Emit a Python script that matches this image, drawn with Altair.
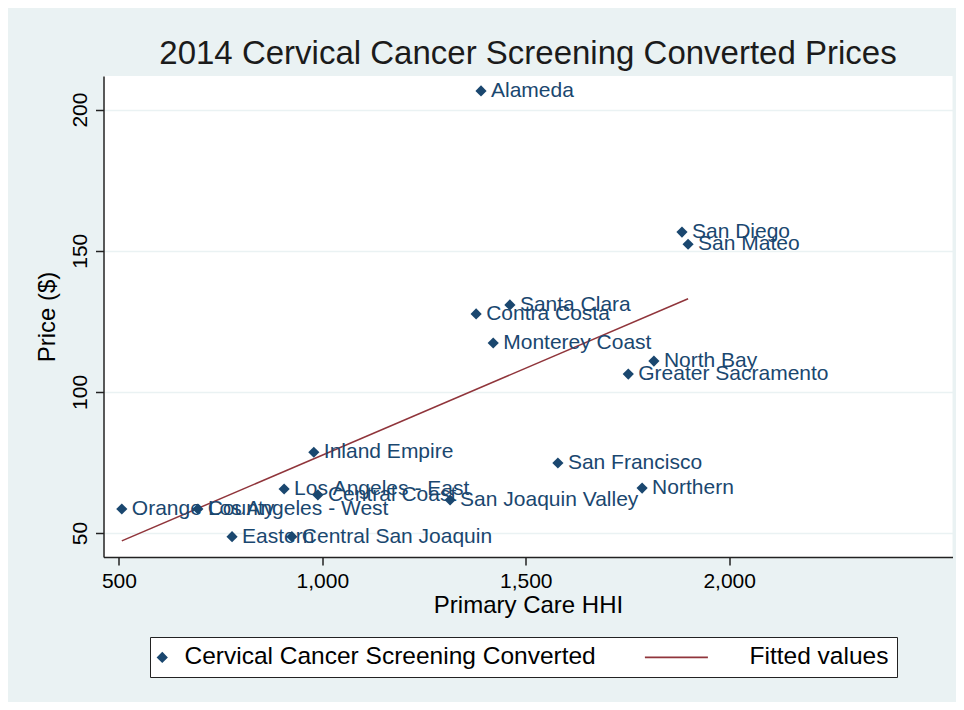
import altair as alt
import pandas as pd

regions = ["Alameda", "San Diego", "San Mateo", "Santa Clara", "Contra Costa",
           "Monterey Coast", "North Bay", "Greater Sacramento", "Inland Empire",
           "San Francisco", "Los Angeles - East", "Northern", "Central Coast",
           "San Joaquin Valley", "Orange County", "Los Angeles - West", "Eastern",
           "Central San Joaquin"]
hhi = [1390, 1884, 1899, 1461, 1378, 1420, 1815, 1752, 979, 1579, 906, 1786,
       989, 1314, 507, 694, 778, 925]
price = [206.6, 156.6, 152.3, 130.8, 127.6, 117.3, 110.9, 106.3, 78.6, 74.8,
         65.6, 65.9, 63.5, 61.7, 58.5, 58.5, 48.7, 48.7]
series_names = ["Cervical Cancer Screening Converted", "Fitted values"]
x_ticks = [500, 1000, 1500, 2000]
y_ticks = [50, 100, 150, 200]

NAVY = "#1A476F"
MAROON = "#90353B"
BG = "#EAF2F3"
FONT = "Liberation Sans"

df = pd.DataFrame({"region": regions, "hhi": hhi, "price": price,
                   "series": series_names[0]})

xscale = alt.Scale(domain=[462, 2549], nice=False, zero=False)
yscale = alt.Scale(domain=[41.5, 211.9], nice=False, zero=False)

xenc = alt.X("hhi:Q", scale=xscale, title="Primary Care HHI",
             axis=alt.Axis(values=x_ticks, format=",.0f", grid=False))
yenc = alt.Y("price:Q", scale=yscale, title="Price ($)",
             axis=alt.Axis(values=y_ticks, grid=True, labelAngle=270))

base = alt.Chart(df)

col_scale = alt.Scale(domain=series_names, range=[NAVY, MAROON])
points = base.mark_point(filled=True, size=125, strokeWidth=0, opacity=1).encode(
    x=xenc, y=yenc,
    fill=alt.Fill("series:N", scale=col_scale, legend=alt.Legend(title=None)),
    stroke=alt.Stroke("series:N", scale=col_scale, legend=alt.Legend(title=None)),
    shape=alt.Shape("series:N", scale=alt.Scale(domain=series_names,
                    range=["M0,-1L1,0L0,1L-1,0Z", "M-18.3,0H-4.3"]),
                    legend=alt.Legend(title=None)),
)

labels = base.mark_text(align="left", baseline="middle", dx=10, fontSize=21,
                        font=FONT, color=NAVY).encode(
    x=xenc, y=yenc, text="region:N")

fit = base.transform_regression("hhi", "price").mark_line(
    color=MAROON, strokeWidth=1.5).encode(x=xenc, y=yenc)

chart = alt.layer(fit, points, labels).properties(
    width=849, height=481,
    title=alt.TitleParams("2014 Cervical Cancer Screening Converted Prices",
                          fontSize=33, font=FONT, fontWeight="normal",
                          color="#1b1b1b", anchor="middle", offset=5),
    autosize=alt.AutoSizeParams(type="none"),
    padding={"left": 95.5, "top": 68, "right": 3.5, "bottom": 145},
    background=BG,
).configure_view(
    fill="white", stroke=None
).configure_axis(
    labelFont=FONT, titleFont=FONT, labelFontSize=21, titleFontSize=24,
    titleFontWeight="normal", labelColor="#000", titleColor="#000",
    domainColor="#222", domainWidth=1.5, tickColor="#222", tickWidth=1.5,
    tickSize=8, gridColor=BG, gridWidth=1.5, labelPadding=5,
).configure_axisY(
    titlePadding=10
).configure_axisX(
    titlePadding=2
).configure_legend(
    orient="none", legendX=46.5, legendY=561, direction="horizontal",
    labelFont=FONT, labelFontSize=24.5, labelColor="#000", symbolSize=81,
    symbolStrokeWidth=1.6, strokeColor="#222", fillColor="white",
    padding=8, columnPadding=45, labelOffset=10, labelLimit=0, symbolOffset=-8,
)

chart.save("out.html", embed_options={"renderer": "svg", "actions": False})
